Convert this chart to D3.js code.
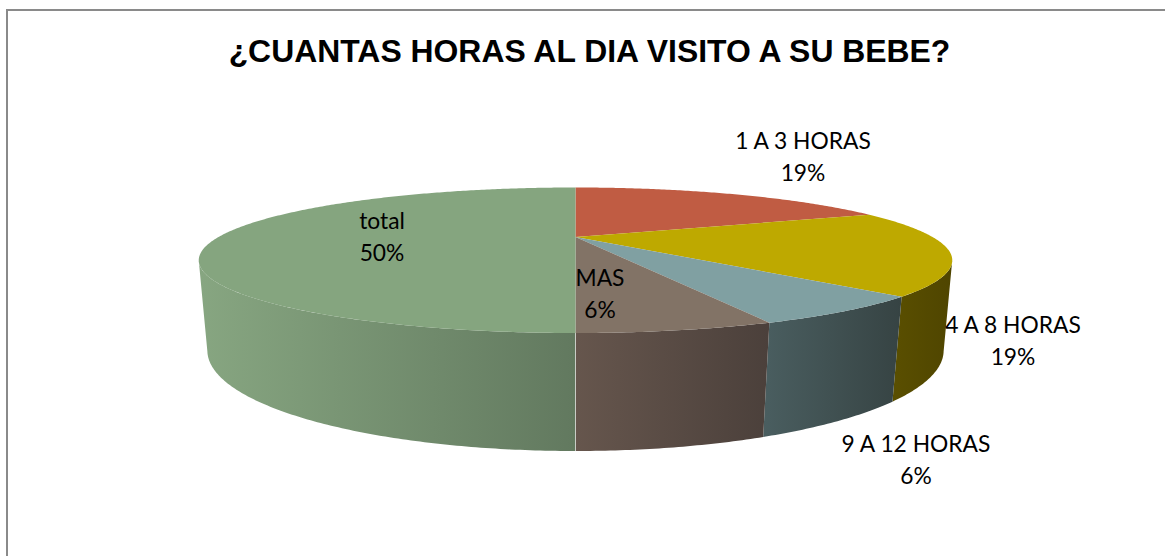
<!DOCTYPE html>
<html><head><meta charset="utf-8">
<script src="https://cdn.jsdelivr.net/npm/d3@7"></script>
<style>html,body{margin:0;padding:0;background:#fff;overflow:hidden}svg{display:block}</style>
</head><body><svg id="c" width="1165" height="556"></svg>
<script>
const titleText = "¿CUANTAS HORAS AL DIA VISITO A SU BEBE?";
const categories = ["1 A 3 HORAS", "4 A 8 HORAS", "9 A 12 HORAS", "MAS", "total"];
const values = [3, 3, 1, 1, 8];
const topColors = ["#c05c43", "#bea900", "#80a0a2", "#827366", "#85a57f"];
const wallLeft = ["#8a4030", "#5a4f00", "#4a5e60", "#66564d", "#87a681"];
const wallRight = ["#8a4030", "#4f4500", "#364343", "#4b403b", "#62795f"];
const labelX = [803, 1013, 916, 600, 382];
const labelY = [141, 325, 444, 278, 221];

const svg = d3.select("#c");
const cx = 575.5;
const topPlane = {a: 357, k: 0.3196, A: 237, B: 10.4};
const botPlane = {a: 350, k: 0.31, A: 319.4, B: 8.2};
const project = (p, t) => {
  const u = Math.sin(t), v = Math.cos(t), w = 1 + p.k * v;
  return [cx + p.a * u / w, (p.A + p.B * v) / w];
};
const total = d3.sum(values);
const arcs = d3.pie().sort(null).value(d => d)(values);
const line = d3.line();
const TAU = 2 * Math.PI;
const samples = (a, b) => {
  const n = Math.max(2, Math.ceil((b - a) / 0.01));
  return d3.range(n + 1).map(i => a + (b - a) * i / n);
};

const defs = svg.append("defs");
const visStart = Math.acos(-topPlane.k), visEnd = TAU - visStart;

// walls
arcs.forEach((d, i) => {
  const a = Math.max(d.startAngle, visStart), b = Math.min(d.endAngle, visEnd);
  if (b <= a) return;
  const ts = samples(a, b);
  const pts = ts.map(t => project(topPlane, t)).concat(ts.slice().reverse().map(t => project(botPlane, t)));
  const xs = pts.map(p => p[0]);
  const g = defs.append("linearGradient").attr("id", "w" + i).attr("gradientUnits", "userSpaceOnUse")
    .attr("x1", d3.min(xs)).attr("x2", d3.max(xs)).attr("y1", 0).attr("y2", 0);
  g.append("stop").attr("offset", 0).attr("stop-color", wallLeft[i]);
  g.append("stop").attr("offset", 1).attr("stop-color", wallRight[i]);
  svg.append("path").attr("d", line(pts) + "Z").attr("fill", `url(#w${i})`);
});

// top face
const apex = [cx, topPlane.A];
arcs.forEach((d, i) => {
  const pts = [apex].concat(samples(d.startAngle, d.endAngle).map(t => project(topPlane, t)));
  svg.append("path").attr("d", line(pts) + "Z").attr("fill", topColors[i]);
});

// thin light seam on the vertical diameter
const seamAngle = arcs[4].startAngle;
svg.append("path").attr("d", line([project(topPlane, seamAngle), project(botPlane, seamAngle)]))
  .attr("stroke", "#c9cdc6").attr("stroke-width", 1).attr("fill", "none");

// frame, running off the right and bottom edges
svg.append("path").attr("d", line([[7, 570], [7, 10], [1180, 10]]))
  .attr("fill", "none").attr("stroke", "#8a8a8a").attr("stroke-width", 2);

// title
svg.append("text").attr("x", 589.5).attr("y", 62).attr("text-anchor", "middle")
  .attr("font-family", "Liberation Sans").attr("font-weight", "bold").attr("font-size", 31.9)
  .attr("fill", "#000").text(titleText);

// data labels
categories.forEach((c, i) => {
  const t = svg.append("text").attr("text-anchor", "middle")
    .attr("font-family", "Lato").attr("font-size", 22.8).attr("fill", "#000");
  t.append("tspan").attr("x", labelX[i]).attr("y", labelY[i] + 8).text(c);
  t.append("tspan").attr("x", labelX[i]).attr("y", labelY[i] + 40).text(d3.format(".0f")(values[i] / total * 100) + "%");
});
</script></body></html>
